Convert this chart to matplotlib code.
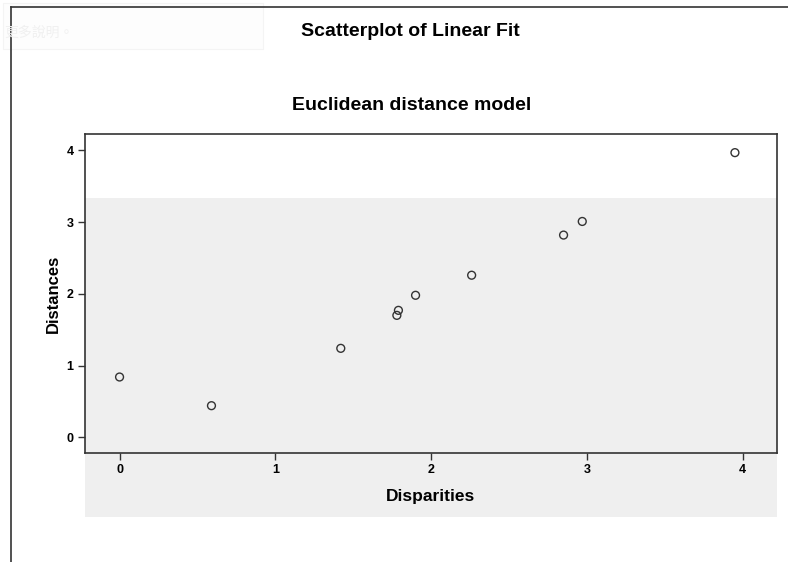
import matplotlib
matplotlib.use("Agg")
import matplotlib.pyplot as plt
from matplotlib.patches import Rectangle
from matplotlib.lines import Line2D

# data
disparities = [0.00, 0.59, 1.42, 1.78, 1.79, 1.90, 2.26, 2.85, 2.97, 3.95]
distances = [0.84, 0.44, 1.24, 1.70, 1.77, 1.98, 2.26, 2.82, 3.01, 3.97]
x_ticks = [0, 1, 2, 3, 4]
y_ticks = [0, 1, 2, 3, 4]

plt.rcParams['font.family'] = ['Liberation Sans', 'DejaVu Sans']

W, H = 788, 562
fig = plt.figure(figsize=(W / 100, H / 100), dpi=100)

# light gray panel behind the lower part of the chart
fig.patches.append(Rectangle((85 / W, 1 - 517 / H), (777 - 85) / W, (517 - 198) / H,
                             transform=fig.transFigure, facecolor="#efefef",
                             edgecolor="none", zorder=-2))

# outer frame (left and top)
fig.lines.append(Line2D([11 / W, 11 / W], [0, 1 - 7 / H], transform=fig.transFigure,
                        color="#333333", lw=1.2))
fig.lines.append(Line2D([11 / W, 1], [1 - 7 / H, 1 - 7 / H], transform=fig.transFigure,
                        color="#333333", lw=1.2))

# faint caption box top left
fig.patches.append(Rectangle((3 / W, 1 - 49 / H), 260 / W, 46 / H,
                             transform=fig.transFigure, facecolor="#fdfdfd",
                             edgecolor="#f4f4f4", lw=0.8, zorder=-2))
fig.text(4 / W, 1 - 33 / H, "更多說明。", fontsize=10, color="#f0f0f0",
         family=['Noto Sans CJK TC', 'DejaVu Sans'], va="center")

ax = fig.add_axes([84.5 / W, 1 - 453 / H, (777 - 84.5) / W, (453 - 134) / H])
ax.set_facecolor("none")
ax.set_zorder(1)

ax.scatter(disparities, distances, s=32, facecolors="none", edgecolors="#333333",
           linewidths=1.0, zorder=3)

ax.set_xlim(-0.225, 4.22)
ax.set_ylim(-0.22, 4.23)
ax.set_xticks(x_ticks)
ax.set_yticks(y_ticks)
ax.tick_params(direction="out", length=5, width=1, color="#333333", labelsize=9, pad=3)
for lab in ax.get_xticklabels() + ax.get_yticklabels():
    lab.set_fontweight("bold")

for sp in ax.spines.values():
    sp.set_color("#333333")
    sp.set_linewidth(1.2)

ax.set_xlabel("Disparities", fontsize=12.5, fontweight="bold", labelpad=9)
ax.set_ylabel("Distances", fontsize=12, fontweight="bold", labelpad=4)

fig.text(410 / W, 1 - 31 / H, "Scatterplot of Linear Fit", fontsize=14,
         fontweight="bold", ha="center", va="center")
fig.text(412 / W, 1 - 105 / H, "Euclidean distance model", fontsize=14,
         fontweight="bold", ha="center", va="center")

fig.savefig("out.png", dpi=100)
